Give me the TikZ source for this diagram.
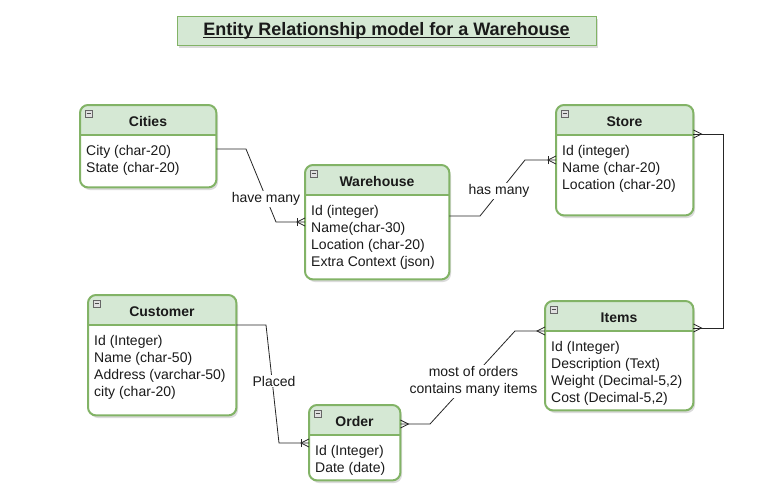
\documentclass[tikz,border=0pt]{standalone}
\usepackage{fontspec}
\setmainfont{Liberation Sans}
\definecolor{gborder}{HTML}{82B366}
\definecolor{gfill}{HTML}{D5E8D4}
\definecolor{txt}{HTML}{1A1A1A}
\tikzset{
  conn/.style={draw=black!85, line width=0.8pt},
  lbl/.style={fill=white, inner sep=1pt, text=txt, align=center, font=\fontsize{14}{17}\selectfont},
  crowmany/.pic={\draw[conn] (0,-4) -- (8,0) -- (0,4);},
  crowone/.pic={\draw[conn] (0,-4) -- (8,0) -- (0,4); \draw[conn] (8,-4) -- (8,4);},
  shadowfill/.style={fill=black, opacity=0.14},
}
\newcommand{\erentity}[7]{%
  \fill[shadowfill, rounded corners=8pt] (#2+2,#3+3) rectangle (#4+2,#5+3);
  \node[fill=white, rounded corners=8pt, minimum width={(#4)-(#2)}, minimum height={(#5)-(#3)}, anchor=north west, inner sep=0] (#1) at (#2,#3) {};
  \fill[gfill] (#2,#3+30) [rounded corners=8pt] -- (#2,#3) -- (#4,#3) [sharp corners] -- (#4,#3+30) -- cycle;
  \draw[gborder, line width=2pt, rounded corners=8pt] (#1.north west) rectangle (#1.south east);
  \draw[gborder, line width=2pt] (#2,#3+30) -- (#4,#3+30);
  \draw[fill=black!12, draw=black!60, line width=0.6pt] (#2+5,#3+5) rectangle (#2+12,#3+12);
  \draw[black!70, line width=0.7pt] (#2+6.5,#3+8.5) -- (#2+10.5,#3+8.5);
  \node[font=\fontsize{14}{17}\selectfont\bfseries, text=txt, anchor=base, inner sep=0] (#1-title) at ({(#2+#4)/2},#3+21) {#6};
  \node[font=\fontsize{14}{17}\selectfont, text=txt, anchor=base west, inner sep=0] (#1-attrs) at (#2+6,#3+50) {\begin{tabular}[t]{@{}l@{}}#7\end{tabular}};
}
\begin{document}
\begin{tikzpicture}[x=1pt, y=-1pt]
\useasboundingbox (0,0) rectangle (769,498);
\fill[white] (0,0) rectangle (769,498);

% title
\fill[shadowfill] (179,19) rectangle (598,48);
\node[draw=gborder, fill=gfill, line width=1pt, minimum width=419, minimum height=29, anchor=north west, inner sep=0] (titlebox) at (177,16) {};
\node[font=\fontsize{18}{20}\selectfont\bfseries, text=txt, anchor=base, inner sep=0] (title) at (386.5,35) {Entity Relationship model for a Warehouse};
\draw[txt, line width=1.3pt] ([yshift=-2.5pt]title.base west) -- ([yshift=-2.5pt]title.base east);

% entities
\erentity{cities}{80}{105}{216}{187}{Cities}{City (char-20)\\State (char-20)}
\erentity{warehouse}{305}{165}{449}{279}{Warehouse}{Id (integer)\\Name(char-30)\\Location (char-20)\\Extra Context (json)}
\erentity{store}{556}{105}{693}{215}{Store}{Id (integer)\\Name (char-20)\\Location (char-20)}
\erentity{customer}{88}{295}{236}{415}{Customer}{Id (Integer)\\Name (char-50)\\Address (varchar-50)\\city (char-20)}
\erentity{items}{545}{301}{693}{410}{Items}{Id (Integer)\\Description (Text)\\Weight (Decimal-5,2)\\Cost (Decimal-5,2)}
\erentity{order}{309}{405}{400}{480}{Order}{Id (Integer)\\Date (date)}

% connectors
\draw[conn] (cities.east |- 0,149) -- (246,149) -- (276,222) -- (warehouse.west |- 0,222);
\pic[rotate=180] at (warehouse.west |- 0,222) {crowone};

\draw[conn] (warehouse.east |- 0,216) -- (480,216) -- (525,160) -- (store.west |- 0,160);
\pic[rotate=180] at (store.west |- 0,160) {crowone};

\draw[conn] (store.east |- 0,134) -- (723,134) -- (723,328) -- (items.east |- 0,328);
\pic at (store.east |- 0,134) {crowmany};
\pic at (items.east |- 0,328) {crowmany};

\draw[conn] (customer.east |- 0,325) -- (266,325) -- (279,443) -- (order.west |- 0,443);
\pic[rotate=180] at (order.west |- 0,443) {crowone};

\draw[conn] (order.east |- 0,424) -- (430,424) -- (515,331) -- (items.west |- 0,331);
\pic at (order.east |- 0,424) {crowmany};
\pic[rotate=180] at (items.west |- 0,331) {crowmany};

% labels
\node[lbl] (l1) at (266,199) {have many};
\node[lbl] (l2) at (499,191) {has many};
\node[lbl] (l3) at (274,381) {Placed};
\node[lbl] (l4) at (473.5,381.5) {most of orders\\contains many items};
\end{tikzpicture}
\end{document}
